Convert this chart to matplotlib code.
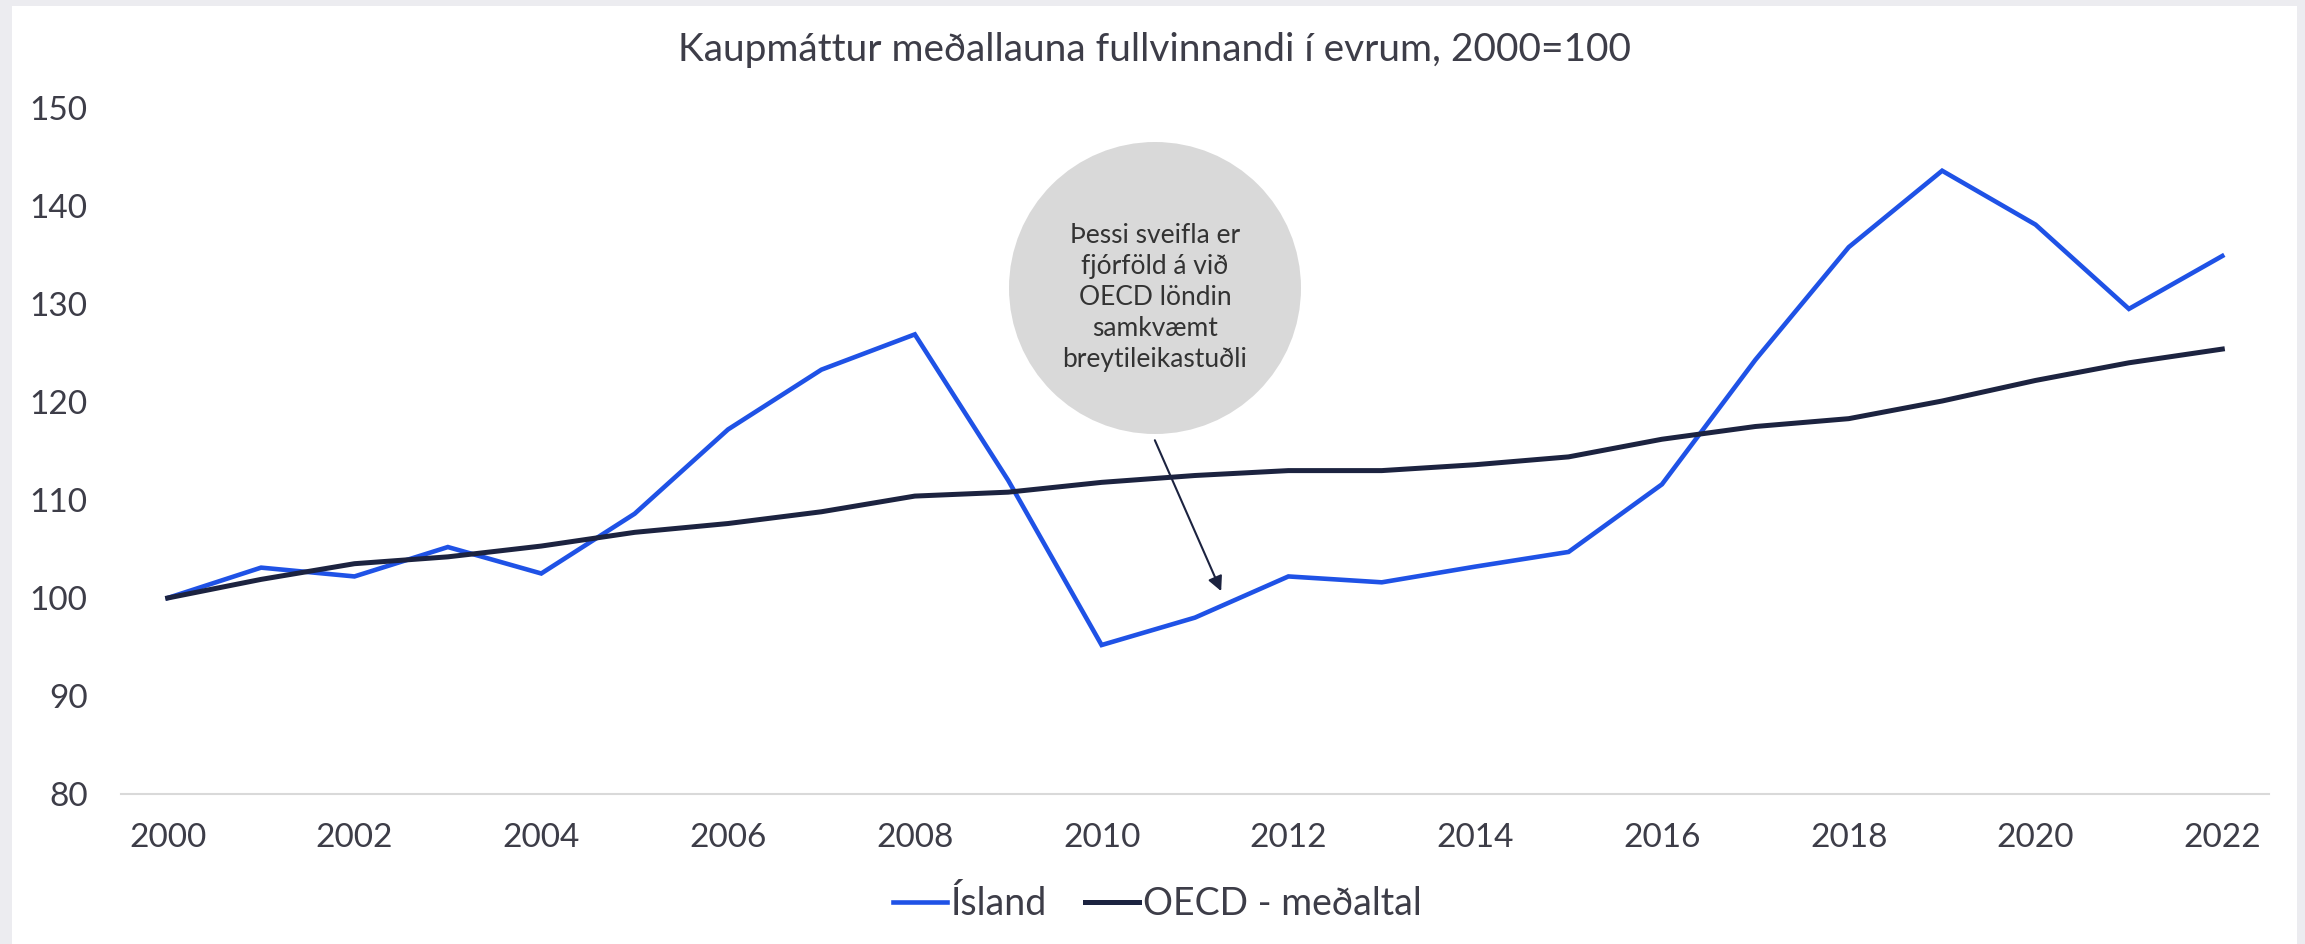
import matplotlib.pyplot as plt
from matplotlib.patches import Ellipse, Rectangle

plt.rcParams['font.family'] = ['Lato', 'DejaVu Sans']

# data
years = list(range(2000, 2023))
island = [100, 103.1, 102.2, 105.2, 102.5, 108.6, 117.2, 123.3, 126.9, 112.0,
          95.2, 98.0, 102.2, 101.6, 103.2, 104.7, 111.6, 124.3, 135.8, 143.6,
          138.1, 129.5, 134.9]
oecd = [100, 101.9, 103.5, 104.2, 105.3, 106.7, 107.6, 108.8, 110.4, 110.8,
        111.8, 112.5, 113.0, 113.0, 113.6, 114.4, 116.2, 117.5, 118.3, 120.1,
        122.2, 124.0, 125.4]
xticks = list(range(2000, 2023, 2))
yticks = list(range(80, 151, 10))

title = "Kaupmáttur meðallauna fullvinnandi í evrum, 2000=100"
note = "Þessi sveifla er\nfjórföld á við\nOECD löndin\nsamkvæmt\nbreytileikastuðli"

blue = '#1f52e6'
navy = '#1c2340'
text_col = '#3d3d48'

fig = plt.figure(figsize=(23.05, 9.44), dpi=100, facecolor='#ececf0')
# white card inside the light grey frame
fig.patches.append(Rectangle((12 / 2305, 0), (2297 - 12) / 2305, 1 - 6 / 944,
                             transform=fig.transFigure, facecolor='white',
                             edgecolor='none', zorder=-5))

ax = fig.add_axes([121 / 2305, 1 - 794 / 944, (2269 - 121) / 2305, (794 - 108) / 944])
ax.set_facecolor('none')

ax.plot(years, island, color=blue, lw=3.3, label='Ísland', solid_joinstyle='miter')
ax.plot(years, oecd, color=navy, lw=3.6, label='OECD - meðaltal')

ax.set_xlim(1999.5, 2022.5)
ax.set_ylim(80, 150)
ax.set_xticks(xticks)
ax.set_yticks(yticks)
ax.tick_params(length=0, labelsize=24, labelcolor=text_col)
ax.tick_params(axis='y', pad=24)
ax.tick_params(axis='x', pad=21)
for s in ['top', 'right', 'left']:
    ax.spines[s].set_visible(False)
ax.spines['bottom'].set_color('#d9d9d9')
ax.spines['bottom'].set_linewidth(1.5)

fig.text(1154 / 2305, 1 - 50 / 944, title, ha='center', va='center',
         fontsize=28, color=text_col)

# grey bubble with the comment
fig.patches.append(Ellipse((1155 / 2305, 1 - 288 / 944), 292 / 2305, 292 / 944,
                           transform=fig.transFigure, facecolor='#d9d9d9',
                           edgecolor='none', zorder=1))
fig.text(1155 / 2305, 1 - 298 / 944, note, ha='center', va='center',
         fontsize=19, color='#333333', linespacing=1.3, zorder=2)

ax.annotate('', xy=(2011.28, 100.7), xytext=(2010.57, 116.1),
            arrowprops=dict(arrowstyle='-|>', color=navy, lw=1.5,
                            mutation_scale=22, shrinkA=0, shrinkB=0))

ax.legend(loc='center', bbox_to_anchor=((1157 - 121) / 2148, 1 - (904 - 108) / (794 - 108)),
          ncol=2, frameon=False, fontsize=27, labelcolor=text_col, handlelength=1.45,
          handletextpad=0.1, columnspacing=1.0)

fig.savefig('out.png', dpi=100, facecolor=fig.get_facecolor())
